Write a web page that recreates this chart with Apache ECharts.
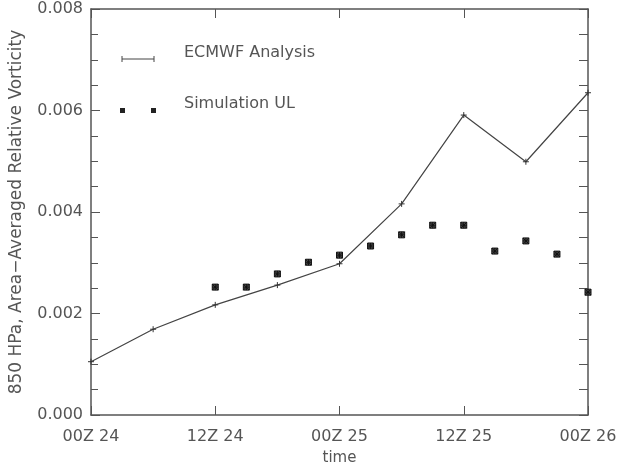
<!DOCTYPE html>
<html>
<head>
<meta charset="utf-8">
<script src="https://cdn.jsdelivr.net/npm/echarts@6/dist/echarts.min.js"></script>
<style>
html, body { margin: 0; padding: 0; background: #fff; }
#main { width: 619px; height: 465px; }
</style>
</head>
<body>
<div id="main"></div>
<script>
// hours since 00Z 24
var tickLabels = ['00Z 24', '12Z 24', '00Z 25', '12Z 25', '00Z 26'];
var ecmwfHours = [0, 6, 12, 18, 24, 30, 36, 42, 48];
var ecmwfValues = [0.00105, 0.00169, 0.00217, 0.00256, 0.00298, 0.00416, 0.00591, 0.00499, 0.00635];
var simHours = [12, 15, 18, 21, 24, 27, 30, 33, 36, 39, 42, 45, 48];
var simValues = [0.00252, 0.00252, 0.00278, 0.00301, 0.00315, 0.00333, 0.00355, 0.00374, 0.00374, 0.00323, 0.00343, 0.00317, 0.00242];

var chart = echarts.init(document.getElementById('main'));

var axisColor = '#555';
var textFont = 'DejaVu Sans';
var crossPath = 'path://M0,5L10,5M5,0L5,10';
var starPath = 'path://M0,0L10,10M10,0L0,10M5,0L5,10M0,5L10,5M0,0L10,0L10,10L0,10Z';

function pairs(xs, ys) {
	return xs.map(function (x, i) { return [x, ys[i]]; });
}

var option = {
	backgroundColor: '#fff',
	animation: false,
	grid: { left: 91, right: 31, top: 9, bottom: 50, outerBoundsMode: 'none', containLabel: false },
	xAxis: [{
		type: 'value',
		min: 0,
		max: 48,
		interval: 12,
		name: 'time',
		nameLocation: 'middle',
		nameGap: 36,
		nameTextStyle: { color: axisColor, fontSize: 15, fontFamily: textFont },
		axisLine: { onZero: false, lineStyle: { color: axisColor, width: 1.5 } },
		axisTick: { inside: true, length: 9, lineStyle: { color: axisColor } },
		axisLabel: {
			color: axisColor, fontSize: 16, fontFamily: textFont, margin: 14,
			formatter: function (v) { return tickLabels[v / 12]; }
		},
		splitLine: { show: false }
	}, {
		type: 'value',
		position: 'top',
		min: 0,
		max: 48,
		interval: 12,
		axisLine: { onZero: false, lineStyle: { color: axisColor, width: 1.5 } },
		axisTick: { inside: true, length: 9, lineStyle: { color: axisColor } },
		axisLabel: { show: false },
		splitLine: { show: false }
	}],
	yAxis: [{
		type: 'value',
		min: 0,
		max: 0.008,
		interval: 0.002,
		name: '850 HPa, Area\u2212Averaged Relative Vorticity',
		nameLocation: 'middle',
		nameGap: 66,
		nameTextStyle: { color: axisColor, fontSize: 17, fontFamily: textFont },
		axisLine: { show: true, onZero: false, lineStyle: { color: axisColor, width: 1.5 } },
		axisTick: { show: true, inside: true, length: 9, lineStyle: { color: axisColor } },
		minorTick: { show: true, splitNumber: 4, length: 7, lineStyle: { color: axisColor } },
		axisLabel: {
			color: axisColor, fontSize: 16, fontFamily: textFont, margin: 8,
			formatter: function (v) { return v.toFixed(3); }
		},
		splitLine: { show: false }
	}, {
		type: 'value',
		position: 'right',
		min: 0,
		max: 0.008,
		interval: 0.002,
		axisLine: { show: true, onZero: false, lineStyle: { color: axisColor, width: 1.5 } },
		axisTick: { show: true, inside: true, length: 9, lineStyle: { color: axisColor } },
		minorTick: { show: true, splitNumber: 4, length: 9, lineStyle: { color: axisColor } },
		axisLabel: { show: false },
		splitLine: { show: false }
	}],
	graphic: [
		{ type: 'line', shape: { x1: 122, y1: 59, x2: 154, y2: 59 }, style: { stroke: '#444', lineWidth: 1 } },
		{ type: 'line', shape: { x1: 122, y1: 56, x2: 122, y2: 62 }, style: { stroke: '#444', lineWidth: 1 } },
		{ type: 'line', shape: { x1: 154, y1: 56, x2: 154, y2: 62 }, style: { stroke: '#444', lineWidth: 1 } },
		{ type: 'text', left: 184, top: 45, style: { text: 'ECMWF Analysis', fill: axisColor, font: '16px "DejaVu Sans"' } },
		{ type: 'rect', shape: { x: 120, y: 108, width: 5, height: 5 }, style: { fill: '#222' } },
		{ type: 'rect', shape: { x: 151, y: 108, width: 5, height: 5 }, style: { fill: '#222' } },
		{ type: 'text', left: 184, top: 96, style: { text: 'Simulation UL', fill: axisColor, font: '16px "DejaVu Sans"' } }
	],
	series: [{
		name: 'ECMWF Analysis',
		type: 'line',
		data: pairs(ecmwfHours, ecmwfValues),
		symbol: crossPath,
		symbolSize: 6,
		showAllSymbol: true,
		lineStyle: { color: '#444', width: 1.2 },
		itemStyle: { color: 'none', borderColor: '#333', borderWidth: 1 },
		z: 3
	}, {
		name: 'Simulation UL',
		type: 'scatter',
		data: pairs(simHours, simValues),
		symbol: starPath,
		symbolSize: 6,
		itemStyle: { color: '#555', borderColor: '#111', borderWidth: 1, opacity: 1 },
		z: 4
	}]
};

chart.setOption(option);
</script>
</body>
</html>
